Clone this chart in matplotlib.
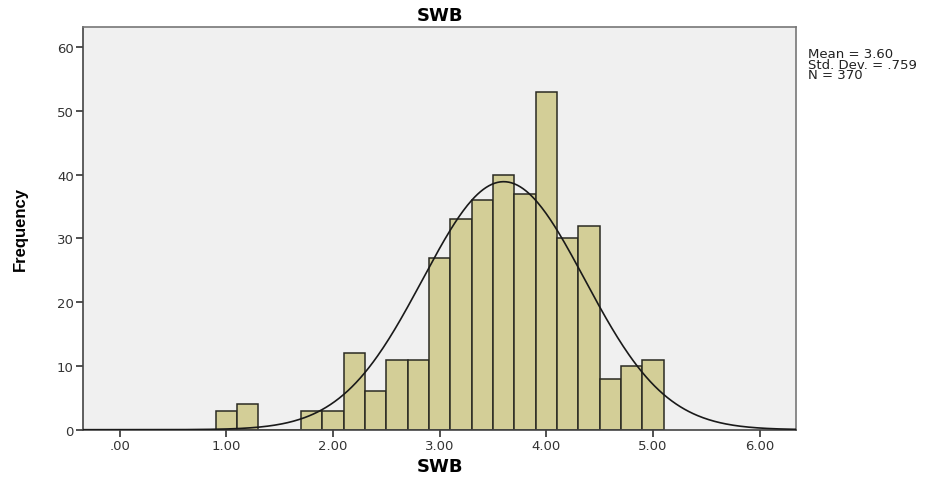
import numpy as np
import matplotlib
matplotlib.use('Agg')
import matplotlib.pyplot as plt

# histogram bins (left edges) and counts
bin_left = [0.9, 1.1, 1.3, 1.5, 1.7, 1.9, 2.1, 2.3, 2.5, 2.7, 2.9, 3.1,
            3.3, 3.5, 3.7, 3.9, 4.1, 4.3, 4.5, 4.7, 4.9]
counts = [3, 4, 0, 0, 3, 3, 12, 6, 11, 11, 27, 33,
          36, 40, 37, 53, 30, 32, 8, 10, 11]
bin_width = 0.2

mean = 3.60
std = 0.759
n = 370

xticks = [0, 1, 2, 3, 4, 5, 6]
xtick_labels = ['.00', '1.00', '2.00', '3.00', '4.00', '5.00', '6.00']
yticks = [0, 10, 20, 30, 40, 50, 60]

plt.rcParams['font.family'] = ['DejaVu Sans']

fig = plt.figure(figsize=(9.45, 4.81), dpi=100)
ax = fig.add_axes([0.0882, 0.1046, 0.7541, 0.8378])
ax.set_facecolor('#f0f0f0')

ax.bar(bin_left, counts, width=bin_width, align='edge',
       color='#d3ce97', edgecolor='#2a2a22', linewidth=1.1, zorder=2)

xs = np.linspace(-0.34, 6.34, 500)
ys = n * bin_width * np.exp(-0.5 * ((xs - mean) / std) ** 2) / (std * np.sqrt(2 * np.pi))
ax.plot(xs, ys, color='#1a1a1a', linewidth=1.2, zorder=3)

ax.set_xlim(-0.34, 6.34)
ax.set_ylim(0, 63.2)
ax.set_xticks(xticks)
ax.set_xticklabels(xtick_labels)
ax.set_yticks(yticks)
ax.tick_params(axis='both', labelsize=9.5, colors='#333333', length=5, width=1.2)
ax.tick_params(axis='x', pad=2)
ax.tick_params(axis='y', pad=2)

for s in ax.spines.values():
    s.set_color('#777777')
    s.set_linewidth(1.2)
ax.spines['left'].set_color('#444444')
ax.spines['bottom'].set_color('#444444')

ax.set_title('SWB', fontsize=13, fontweight='bold', pad=5)
ax.set_xlabel('SWB', fontsize=13, fontweight='bold')
ax.xaxis.set_label_coords(0.5, -0.068)
ax.set_ylabel('Frequency', fontsize=12, fontweight='bold',
              family=['Liberation Sans Narrow', 'DejaVu Sans Condensed', 'Liberation Sans'])
ax.yaxis.set_label_coords(-0.078, 0.5)

fig.text(0.855, 0.9, 'Mean = 3.60\nStd. Dev. = .759\nN = 370',
         fontsize=9.5, va='top', ha='left', linespacing=0.75, color='#222222')

fig.savefig('out.png', dpi=100)
